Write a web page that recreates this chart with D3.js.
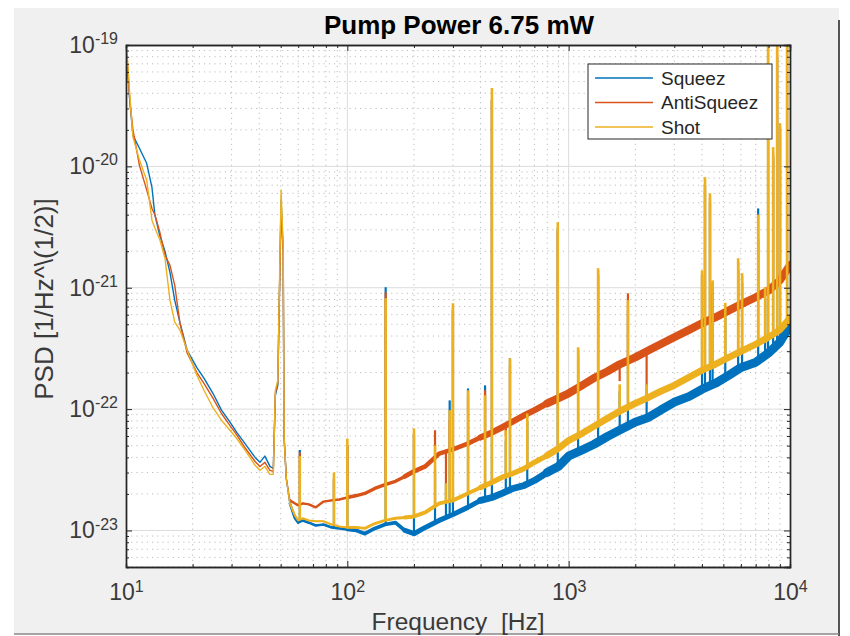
<!DOCTYPE html>
<html>
<head>
<meta charset="utf-8">
<script src="https://cdn.jsdelivr.net/npm/d3@7"></script>
<style>
body { margin: 0; background: #fff; }
text { font-family: "Liberation Sans", Arial, sans-serif; }
</style>
</head>
<body>
<svg id="chart" width="850" height="636"></svg>
<script>
// frequency grid (Hz) of the read-off points
const freqs = [10.1, 10.4, 10.75, 11.5, 12.4, 13.1, 13.5, 14.2, 15.0, 15.8, 16.6, 17.5, 18.9, 20.9, 22.5, 24.7, 27, 29.5, 31.7, 34.5,
  38.3, 40.3, 42.4, 44.7, 46.3, 47.3, 48.5, 50.2, 51.3, 51.8, 53, 55, 58, 60, 63, 67, 72, 78, 85, 92,
  100, 110, 120, 133, 148, 165, 182, 200, 225, 260, 300, 350, 400, 450, 500, 560, 630, 700, 800, 900,
  1000, 1150, 1300, 1500, 1700, 2000, 2300, 2600, 3000, 3500, 4000, 4600, 5300, 6000, 7000, 8000, 9000, 10000];

const squeez = [7.5e-20, 3.5e-20, 1.8e-20, 1.41e-20, 1.06e-20, 6.7e-21, 4.0e-21, 2.7e-21, 2.0e-21, 1.34e-21, 7.9e-22, 5.2e-22, 3.05e-22, 2.2e-22, 1.8e-22, 1.35e-22, 9.8e-23, 7.8e-23, 6.4e-23, 5.2e-23,
  4.0e-23, 3.64e-23, 4.1e-23, 3.37e-23, 3.24e-23, 1.3e-22, 1.57e-22, 5.3e-21, 2.0e-21, 5.85e-23, 2.68e-23, 1.67e-23, 1.26e-23, 1.16e-23, 1.21e-23, 1.16e-23, 1.10e-23, 1.12e-23, 1.06e-23, 1.04e-23,
  1.02e-23, 1.0e-23, 9.4e-24, 1.04e-23, 1.12e-23, 1.16e-23, 1.0e-23, 9.4e-24, 1.06e-23, 1.21e-23, 1.355e-23, 1.55e-23, 1.77e-23, 1.87e-23, 2.02e-23, 2.22e-23, 2.35e-23, 2.58e-23, 3.01e-23, 3.37e-23,
  4.1e-23, 4.6e-23, 5.12e-23, 5.96e-23, 6.7e-23, 7.8e-23, 8.55e-23, 9.8e-23, 1.14e-22, 1.27e-22, 1.455e-22, 1.63e-22, 1.9e-22, 2.2e-22, 2.43e-22, 2.9e-22, 3.55e-22, 4.9e-22];

const antiSqueez = [8.3e-20, 3.5e-20, 2.0e-20, 1.02e-20, 6.4e-21, 4.5e-21, 4.0e-21, 2.9e-21, 1.85e-21, 1.53e-21, 1.05e-21, 5.2e-22, 2.9e-22, 2.0e-22, 1.63e-22, 1.23e-22, 9.2e-23, 7.3e-23, 6.1e-23, 4.8e-23,
  3.7e-23, 3.37e-23, 3.64e-23, 3.13e-23, 3.07e-23, 1.37e-22, 1.63e-22, 4.4e-21, 2.0e-21, 5.85e-23, 2.68e-23, 1.77e-23, 1.67e-23, 1.61e-23, 1.67e-23, 1.64e-23, 1.55e-23, 1.73e-23, 1.77e-23, 1.80e-23,
  1.87e-23, 1.94e-23, 2.02e-23, 2.22e-23, 2.39e-23, 2.54e-23, 2.79e-23, 3.07e-23, 3.37e-23, 4.3e-23, 4.66e-23, 5.2e-23, 5.85e-23, 6.4e-23, 7.07e-23, 7.9e-23, 8.9e-23, 9.8e-23, 1.115e-22, 1.23e-22,
  1.35e-22, 1.57e-22, 1.8e-22, 2.05e-22, 2.34e-22, 2.67e-22, 3.05e-22, 3.42e-22, 3.91e-22, 4.5e-22, 5.1e-22, 5.7e-22, 6.5e-22, 7.3e-22, 8.35e-22, 9.5e-22, 1.15e-21, 1.53e-21];

const shot = [8.76e-20, 3.9e-20, 1.74e-20, 1.13e-20, 7.7e-21, 3.6e-21, 3.1e-21, 2.5e-21, 1.75e-21, 7.9e-22, 5.2e-22, 4.5e-22, 3.05e-22, 1.9e-22, 1.43e-22, 1.03e-22, 8.1e-23, 6.7e-23, 5.7e-23, 4.6e-23,
  3.44e-23, 3.13e-23, 3.37e-23, 2.9e-23, 2.9e-23, 1.43e-22, 1.73e-22, 6.4e-21, 2.2e-21, 5.85e-23, 2.68e-23, 1.67e-23, 1.33e-23, 1.21e-23, 1.26e-23, 1.21e-23, 1.19e-23, 1.19e-23, 1.12e-23, 1.08e-23,
  1.06e-23, 1.06e-23, 1.04e-23, 1.14e-23, 1.21e-23, 1.26e-23, 1.28e-23, 1.305e-23, 1.41e-23, 1.67e-23, 1.77e-23, 2.02e-23, 2.26e-23, 2.49e-23, 2.74e-23, 2.95e-23, 3.24e-23, 3.64e-23, 4.15e-23, 4.74e-23,
  5.52e-23, 6.3e-23, 7.2e-23, 8.4e-23, 9.6e-23, 1.115e-22, 1.25e-22, 1.40e-22, 1.57e-22, 1.83e-22, 2.09e-22, 2.34e-22, 2.67e-22, 2.99e-22, 3.42e-22, 3.91e-22, 4.5e-22, 5.6e-22];

// narrow lines (Hz) and their peak heights
const spikeFreqs = [61, 87, 100, 149, 200, 249, 279, 290, 300, 351, 419, 450, 543, 893, 1103, 1358, 1853,
  4004, 4130, 4350, 4470, 5830, 6075, 7180, 7720, 7960, 8390, 8746, 9015, 9700,
  520, 650, 1700, 2250, 5100];
const squeezPeaks = [4.6e-23, 2.58e-23, 5.02e-23, 1.01e-21, 6.1e-23, 3.13e-23, 2.44e-23, 1.18e-22, 6.5e-22, 1.48e-22, 1.57e-22, 3.5e-20, 2.62e-22, 3.1e-21, 3.05e-22, 1.27e-21, 6.5e-22,
  1.27e-21, 7.0e-21, 5.0e-21, 9e-22, 1.4e-21, 1.1e-21, 4.5e-21, 8e-22, 6e-20, 1.2e-20, 8e-20, 2.0e-20, 1e-19,
  5.5e-23, 8e-23, 1.4e-22, 1.5e-22, 6e-22];
const antiPeaks = [4.4e-23, 2.68e-23, 5.02e-23, 9.18e-22, 6.4e-23, 6.7e-23, 2.44e-23, 8.1e-23, 6.78e-22, 1.3e-22, 1.43e-22, 3.5e-20, 2.29e-22, 2.98e-21, 2.78e-22, 1.39e-21, 9.0e-22,
  1.27e-21, 7.0e-21, 5.5e-21, 1.1e-21, 1.62e-21, 1.25e-21, 2.5e-21, 1.0e-21, 1e-19, 1.3e-20, 1.2e-19, 2.1e-20, 1.2e-19,
  6e-23, 8.5e-23, 1.7e-22, 1.5e-22, 7e-22];
const shotPeaks = [4.1e-23, 3.01e-23, 5.7e-23, 8.19e-22, 6.94e-23, 5.02e-23, 2.44e-23, 9.8e-23, 7.45e-22, 1.43e-22, 1.3e-22, 4.42e-20, 2.62e-22, 3.47e-21, 3.23e-22, 1.45e-21, 7.9e-22,
  1.39e-21, 8.15e-21, 6.0e-21, 1.15e-21, 1.75e-21, 1.32e-21, 4.0e-21, 1.01e-21, 1.5e-19, 1.44e-20, 1.5e-19, 2.27e-20, 1.5e-19,
  6.7e-23, 9.2e-23, 1.6e-22, 1.6e-22, 7.5e-22];

const seriesNames = ["Squeez", "AntiSqueez", "Shot"];
const xTicks = [10, 100, 1000, 10000];
const yTicks = [1e-19, 1e-20, 1e-21, 1e-22, 1e-23];

const title = "Pump Power 6.75 mW";
const xTitle = "Frequency  [Hz]";
const yTitle = "PSD [1/Hz^\\(1/2)]";

// styles
const colors = ["#0072BD", "#D95319", "#EDB120"];
// noise band thickness by frequency range
const bandWidths = [[55, 110, 2.4], [100, 200, 3.4], [180, 420, 4.6], [380, 900, 6.2], [800, 10000, 8]];
const bandScale = [1.1, 1.0, 0.85];

const m = {left: 126, right: 790, top: 45, bottom: 567};

const svg = d3.select("#chart");

// figure background
svg.append("rect").attr("x", 14).attr("y", 8).attr("width", 825).attr("height", 626).attr("fill", "#f0f0f0");
svg.append("line").attr("x1", 839).attr("x2", 839).attr("y1", 20).attr("y2", 636).attr("stroke", "#555").attr("stroke-width", 2);
svg.append("line").attr("x1", 14).attr("x2", 839).attr("y1", 634).attr("y2", 634).attr("stroke", "#888").attr("stroke-width", 1.5);

const x = d3.scaleLog().domain([10, 1e4]).range([m.left, m.right]);
const y = d3.scaleLog().domain([5e-24, 1e-19]).range([m.bottom, m.top]);

svg.append("rect").attr("x", m.left).attr("y", m.top)
  .attr("width", m.right - m.left).attr("height", m.bottom - m.top).attr("fill", "#fff");

svg.append("clipPath").attr("id", "clip").append("rect")
  .attr("x", m.left).attr("y", m.top).attr("width", m.right - m.left).attr("height", m.bottom - m.top);

// minor tick / grid positions
const xMinor = [];
[10, 100, 1000].forEach(d => { for (let k = 2; k <= 9; k++) xMinor.push(k * d); });
const yMinor = [];
[1e-24, 1e-23, 1e-22, 1e-21, 1e-20].forEach(d => { for (let k = 2; k <= 9; k++) if (k * d >= 5e-24) yMinor.push(k * d); });

const grid = svg.append("g");
grid.selectAll(".gxm").data(xMinor).join("line")
  .attr("x1", d => x(d)).attr("x2", d => x(d)).attr("y1", m.top).attr("y2", m.bottom)
  .attr("stroke", "#bdbdbd").attr("stroke-dasharray", "1.2,4").attr("stroke-width", 1);
grid.selectAll(".gym").data(yMinor).join("line")
  .attr("y1", d => y(d)).attr("y2", d => y(d)).attr("x1", m.left).attr("x2", m.right)
  .attr("stroke", "#bdbdbd").attr("stroke-dasharray", "1.2,4").attr("stroke-width", 1);
grid.selectAll(".gx").data(xTicks.slice(1, -1)).join("line")
  .attr("x1", d => x(d)).attr("x2", d => x(d)).attr("y1", m.top).attr("y2", m.bottom)
  .attr("stroke", "#dcdcdc").attr("stroke-width", 1);
grid.selectAll(".gy").data(yTicks.slice(1)).join("line")
  .attr("y1", d => y(d)).attr("y2", d => y(d)).attr("x1", m.left).attr("x2", m.right)
  .attr("stroke", "#dcdcdc").attr("stroke-width", 1);

// data
const line = d3.line().x(d => x(d[0])).y(d => y(d[1]));
const allSeries = [squeez, antiSqueez, shot];
const allPeaks = [squeezPeaks, antiPeaks, shotPeaks];

function baseAt(vals, f) {
  const i = Math.min(d3.bisectRight(freqs, f), freqs.length - 1);
  const f0 = freqs[i - 1], f1 = freqs[i];
  const t = Math.log(f / f0) / Math.log(f1 / f0);
  return Math.exp(Math.log(vals[i - 1]) * (1 - t) + Math.log(vals[i]) * t);
}

const plot = svg.append("g").attr("clip-path", "url(#clip)");
allSeries.forEach((vals, s) => {
  const pts = freqs.map((f, i) => [f, vals[i]]);
  plot.append("path").attr("d", line(pts)).attr("fill", "none")
    .attr("stroke", colors[s]).attr("stroke-width", 1.4).attr("stroke-linejoin", "round");
  bandWidths.forEach(([lo, hi, w]) => {
    plot.append("path").attr("d", line(pts.filter(p => p[0] >= lo && p[0] <= hi)))
      .attr("fill", "none").attr("stroke", colors[s]).attr("stroke-width", w * bandScale[s])
      .attr("stroke-linejoin", "round").attr("stroke-linecap", "round");
  });
  spikeFreqs.forEach((f, i) => {
    plot.append("path").attr("d", line([[f, baseAt(vals, f)], [f, allPeaks[s][i]]]))
      .attr("stroke", colors[s]).attr("stroke-width", s === 2 ? 2.6 : 2.2).attr("fill", "none");
  });
});

// axes with inward ticks on all sides
function styleAxis(g) {
  g.select(".domain").attr("stroke", "#262626").attr("stroke-width", 1.4);
  g.selectAll(".tick line").attr("stroke", "#262626").attr("stroke-width", 1);
}
function supLabels(g) {
  g.selectAll(".tick text").each(function (d) {
    const t = d3.select(this);
    t.text(null);
    t.append("tspan").text("10");
    t.append("tspan").attr("dy", "-0.55em").attr("font-size", "16px").text(Math.round(Math.log10(d)));
  });
  g.attr("font-family", null).attr("font-size", null);
  g.selectAll(".tick text").attr("font-size", "23px").attr("fill", "#3a3a3a");
}

svg.append("g").attr("transform", `translate(0,${m.bottom})`)
  .call(d3.axisBottom(x).tickValues(xMinor).tickSize(-3).tickFormat("")).call(styleAxis);
svg.append("g").attr("transform", `translate(0,${m.bottom})`)
  .call(d3.axisBottom(x).tickValues(xTicks).tickSizeInner(-6).tickSizeOuter(0).tickPadding(17))
  .call(styleAxis).call(supLabels);
svg.append("g").attr("transform", `translate(0,${m.top})`)
  .call(d3.axisTop(x).tickValues(xMinor).tickSize(-3).tickFormat("")).call(styleAxis);
svg.append("g").attr("transform", `translate(0,${m.top})`)
  .call(d3.axisTop(x).tickValues(xTicks).tickSize(-6).tickFormat("")).call(styleAxis);
svg.append("g").attr("transform", `translate(${m.left},0)`)
  .call(d3.axisLeft(y).tickValues(yMinor).tickSize(-3).tickFormat("")).call(styleAxis);
svg.append("g").attr("transform", `translate(${m.left},0)`)
  .call(d3.axisLeft(y).tickValues(yTicks).tickSizeInner(-6).tickSizeOuter(0).tickPadding(8))
  .call(styleAxis).call(supLabels);
svg.append("g").attr("transform", `translate(${m.right},0)`)
  .call(d3.axisRight(y).tickValues(yMinor).tickSize(-3).tickFormat("")).call(styleAxis);
svg.append("g").attr("transform", `translate(${m.right},0)`)
  .call(d3.axisRight(y).tickValues(yTicks).tickSize(-6).tickFormat("")).call(styleAxis);

// titles
svg.append("text").attr("x", 459).attr("y", 34).attr("text-anchor", "middle")
  .attr("font-size", "26px").attr("font-weight", "bold").attr("fill", "#000").text(title);
svg.append("text").attr("x", 458).attr("y", 630).attr("text-anchor", "middle")
  .attr("font-size", "24.5px").attr("fill", "#3a3a3a").style("white-space", "pre").text(xTitle);
svg.append("text").attr("transform", "translate(53,299) rotate(-90)").attr("text-anchor", "middle")
  .attr("font-size", "26px").attr("fill", "#3a3a3a").text(yTitle);

// legend
const leg = svg.append("g");
leg.append("rect").attr("x", 588).attr("y", 64).attr("width", 184).attr("height", 75)
  .attr("fill", "#fff").attr("stroke", "#262626").attr("stroke-width", 1);
seriesNames.forEach((name, i) => {
  const ly = 78 + i * 24.5;
  leg.append("line").attr("x1", 595).attr("x2", 653).attr("y1", ly).attr("y2", ly)
    .attr("stroke", colors[i]).attr("stroke-width", 1.5);
  leg.append("text").attr("x", 661).attr("y", ly).attr("dy", "0.35em")
    .attr("font-size", "19px").attr("fill", "#262626").text(name);
});
</script>
</body>
</html>
